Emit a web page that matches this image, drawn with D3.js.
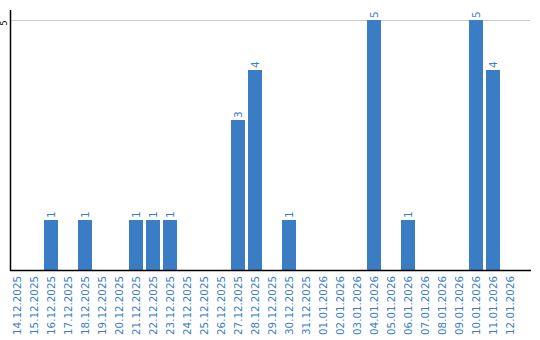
<!DOCTYPE html>
<html><head><meta charset="utf-8">
<script src="https://cdn.jsdelivr.net/npm/d3@7"></script>
<style>body{margin:0;background:#fff}svg{display:block}</style>
</head><body>
<svg id="c" width="540" height="340"></svg>
<script>
const categories = ["14.12.2025","15.12.2025","16.12.2025","17.12.2025","18.12.2025","19.12.2025","20.12.2025","21.12.2025","22.12.2025","23.12.2025","24.12.2025","25.12.2025","26.12.2025","27.12.2025","28.12.2025","29.12.2025","30.12.2025","31.12.2025","01.01.2026","02.01.2026","03.01.2026","04.01.2026","05.01.2026","06.01.2026","07.01.2026","08.01.2026","09.01.2026","10.01.2026","11.01.2026","12.01.2026"];
const values = [0,0,1,0,1,0,0,1,1,1,0,0,0,3,4,0,1,0,0,0,0,5,0,1,0,0,0,5,4,0];
const yTicks = [5];

const svg = d3.select("#c");
const blue = "#3b7dc4";
const font = "DejaVu Sans, Verdana, sans-serif";
const x = d3.scaleBand().domain(categories).range([10, 517]).paddingInner(3/17).paddingOuter(0).align(0);
const y = d3.scaleLinear().domain([0, 5.2]).range([270, 10]);
const data = categories.map((c,i)=>({c, v: values[i]})).filter(d=>d.v>0);

// gridlines
svg.append("g").selectAll("line").data(yTicks).join("line")
  .attr("x1", 10).attr("x2", 530)
  .attr("y1", d => y(d) + 0.5).attr("y2", d => y(d) + 0.5)
  .attr("stroke", "#cccccc").attr("stroke-width", 1);

// bars
svg.append("g").selectAll("rect").data(data).join("rect")
  .attr("x", d => x(d.c)).attr("width", x.bandwidth())
  .attr("y", d => y(d.v)).attr("height", d => y(0) - y(d.v))
  .attr("fill", blue);

// value labels
svg.append("g").selectAll("text").data(data).join("text")
  .attr("transform", d => `translate(${x(d.c) + x.bandwidth()/2 + 4},${y(d.v) - 2}) rotate(-90)`)
  .attr("text-anchor", "start")
  .attr("font-family", font).attr("font-size", 10.5)
  .attr("fill", blue).text(d => d.v);

// axes lines
svg.append("line").attr("x1", 10.5).attr("x2", 10.5).attr("y1", 10).attr("y2", 271).attr("stroke", "#000").attr("stroke-width", 1.5);
svg.append("line").attr("x1", 10).attr("x2", 531).attr("y1", 270.5).attr("y2", 270.5).attr("stroke", "#000").attr("stroke-width", 1.5);

// y tick labels
svg.append("g").selectAll("text").data(yTicks).join("text")
  .attr("transform", d => `translate(7,${y(d) + 3}) rotate(-90)`)
  .attr("text-anchor", "middle")
  .attr("font-family", font).attr("font-size", 8)
  .attr("fill", "#000").text(d => d);

// x labels
svg.append("g").selectAll("text").data(categories).join("text")
  .attr("transform", d => `translate(${x(d) + x.bandwidth()/2 + 4},276) rotate(-90)`)
  .attr("text-anchor", "end")
  .attr("font-family", font).attr("font-size", 10.3)
  .attr("fill", blue).text(d => d);
</script>
</body></html>
